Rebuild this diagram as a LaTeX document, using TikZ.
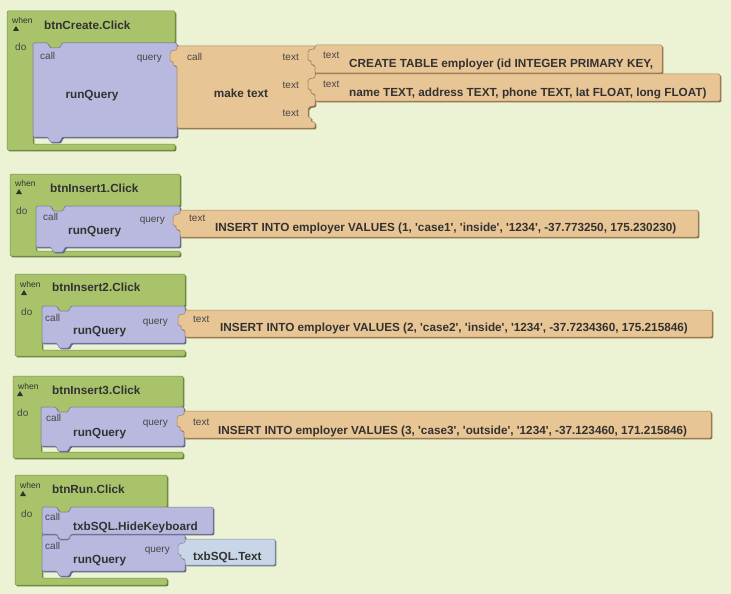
\documentclass[tikz,border=0pt]{standalone}
\usepackage{fontspec}
\setmainfont{Liberation Sans}[Ligatures=TeXOff]
\definecolor{bgc}{RGB}{236,243,213}
\definecolor{evfill}{RGB}{169,195,106}
\definecolor{evline}{RGB}{98,124,52}
\definecolor{stfill}{RGB}{185,185,223}
\definecolor{stline}{RGB}{98,98,138}
\definecolor{orfill}{RGB}{232,197,149}
\definecolor{orline}{RGB}{142,108,66}
\definecolor{blfill}{RGB}{200,214,231}
\definecolor{blline}{RGB}{108,122,140}
\definecolor{txtc}{RGB}{50,50,50}
\definecolor{lblc}{RGB}{70,70,70}

\newcommand\evshape[7]{(#1,#2) -- (#3,#2) -- (#3,#4) -- (#5+29,#4) -- (#5+27,#4+5) -- (#5+17,#4+5) -- (#5+15,#4) -- (#5,#4) -- (#5,#6) -- (#3,#6) -- (#3,#7) -- (#1,#7) -- cycle}
\newcommand\stshape[4]{(#1,#2) -- (#1+15,#2) -- (#1+17,#2+5) -- (#1+27,#2+5) -- (#1+29,#2) -- (#3,#2) -- (#3,#4) -- (#1+29,#4) -- (#1+27,#4+5) -- (#1+17,#4+5) -- (#1+15,#4) -- (#1,#4) -- cycle}
\newcommand\plugup[2]{-- (#1,#2+20) .. controls (#1-3,#2+20) and (#1-4,#2+19) .. (#1-4,#2+17) .. controls (#1-4,#2+16) and (#1-7,#2+16) .. (#1-7,#2+13) -- (#1-7,#2+8) .. controls (#1-7,#2+5) and (#1-4,#2+4) .. (#1,#2+4)}
\newcommand\sockdown[2]{-- (#1,#2+4) .. controls (#1-4,#2+4) and (#1-7,#2+5) .. (#1-7,#2+8) -- (#1-7,#2+13) .. controls (#1-7,#2+16) and (#1-4,#2+16) .. (#1-4,#2+17) .. controls (#1-4,#2+19) and (#1-3,#2+20) .. (#1,#2+20)}
\newcommand\valshape[4]{(#1,#2) -- (#3,#2) -- (#3,#4) -- (#1,#4) \plugup{#1}{#2} -- cycle}
\newcommand\mkshape{(177,46) -- (315,46) \sockdown{315}{45} \sockdown{315}{74} \sockdown{315}{102} -- (315,128) -- (177,128) \plugup{177}{46} -- cycle}
\newcommand\blk[3]{%
  \fill[#2, rounded corners=1.2, shift={(1.3,1.3)}] #3;
  \filldraw[fill=#1, draw=#2!85, line width=0.5, rounded corners=1.2] #3;
}
\newcommand\whenmark[2]{\fill[txtc] (#1-3,#2+2) -- (#1+3,#2+2) -- (#1,#2-3) -- cycle;}

\tikzset{
  big/.style={font=\fontsize{11.75}{14}\selectfont\bfseries, text=txtc, inner sep=0pt, text height=8.4pt, text depth=0pt},
  lbl/.style={font=\fontsize{10}{12}\selectfont, text=lblc, inner sep=0pt, text height=5.5pt, text depth=0pt},
  tiny/.style={font=\fontsize{8.5}{10}\selectfont, text=txtc, inner sep=0pt, text height=5pt, text depth=0pt},
}

\begin{document}
\begin{tikzpicture}[x=1pt,y=-1pt]
\useasboundingbox (0,0) rectangle (731,594);
\fill[bgc] (0,0) rectangle (731,594);

% ---------- block 1: btnCreate.Click
\blk{evfill}{evline}{\evshape{7}{11}{175}{43}{33}{144}{150}}
\blk{stfill}{stline}{\stshape{33}{43}{177}{137}}
\blk{orfill}{orline}{\mkshape}
\blk{orfill}{orline}{\valshape{315}{45}{662}{73}}
\blk{orfill}{orline}{\valshape{315}{74}{720}{101}}
\whenmark{16}{29}
\node[tiny, anchor=west] (w1) at (12,21) {when};
\node[lbl, anchor=west] (d1) at (15,48) {do};
\node[big, anchor=west] (t1) at (44,25) {btnCreate.Click};
\node[lbl, anchor=west] (c1) at (40,57) {call};
\node[big] (r1) at (92,94) {runQuery};
\node[lbl, anchor=east] (q1) at (162,58) {query};
\node[lbl, anchor=west] (c1b) at (187,58) {call};
\node[big] (m1) at (241,93) {make text};
\node[lbl, anchor=east] (s1a) at (299,58) {text};
\node[lbl, anchor=east] (s1b) at (299,86) {text};
\node[lbl, anchor=east] (s1c) at (299,114) {text};
\node[lbl, anchor=west] (x1a) at (323,56) {text};
\node[big, anchor=west] (v1a) at (349,63) {CREATE TABLE employer (id INTEGER PRIMARY KEY,};
\node[lbl, anchor=west] (x1b) at (323,85) {text};
\node[big, anchor=west] (v1b) at (349,92) {name TEXT, address TEXT, phone TEXT, lat FLOAT, long FLOAT)};

% ---------- block 2: btnInsert1.Click
\blk{evfill}{evline}{\evshape{10}{174}{180}{206}{36}{251}{256}}
\blk{stfill}{stline}{\stshape{36}{206}{180}{247}}
\blk{orfill}{orline}{\valshape{180}{210}{698}{237}}
\whenmark{19}{192}
\node[tiny, anchor=west] (w2) at (15,184) {when};
\node[lbl, anchor=west] (d2) at (16,212) {do};
\node[big, anchor=west] (t2) at (50,188) {btnInsert1.Click};
\node[lbl, anchor=west] (c2) at (43,218) {call};
\node[big, anchor=west] (r2) at (68,230) {runQuery};
\node[lbl, anchor=east] (q2) at (165,220) {query};
\node[lbl, anchor=west] (x2) at (189,219) {text};
\node[big, anchor=west] (v2) at (215,227) {INSERT INTO employer VALUES (1, 'case1', 'inside', '1234', -37.773250, 175.230230)};

% ---------- block 3: btnInsert2.Click
\blk{evfill}{evline}{\evshape{15}{274}{185}{306}{42}{350}{356}}
\blk{stfill}{stline}{\stshape{42}{306}{185}{343}}
\blk{orfill}{orline}{\valshape{185}{310}{712}{337}}
\whenmark{24}{293}
\node[tiny, anchor=west] (w3) at (20,285) {when};
\node[lbl, anchor=west] (d3) at (21,313) {do};
\node[big, anchor=west] (t3) at (52,287) {btnInsert2.Click};
\node[lbl, anchor=west] (c3) at (45,319) {call};
\node[big, anchor=west] (r3) at (73,330) {runQuery};
\node[lbl, anchor=east] (q3) at (168,322) {query};
\node[lbl, anchor=west] (x3) at (193,320) {text};
\node[big, anchor=west] (v3) at (220,327) {INSERT INTO employer VALUES (2, 'case2', 'inside', '1234', -37.7234360, 175.215846)};

% ---------- block 4: btnInsert3.Click
\blk{evfill}{evline}{\evshape{13}{376}{183}{407}{41}{452}{458}}
\blk{stfill}{stline}{\stshape{41}{407}{184}{446}}
\blk{orfill}{orline}{\valshape{184}{411}{711}{438}}
\whenmark{20}{394}
\node[tiny, anchor=west] (w4) at (18,387) {when};
\node[lbl, anchor=west] (d4) at (17,414) {do};
\node[big, anchor=west] (t4) at (52,390) {btnInsert3.Click};
\node[lbl, anchor=west] (c4) at (46,419) {call};
\node[big, anchor=west] (r4) at (73,432) {runQuery};
\node[lbl, anchor=east] (q4) at (168,423) {query};
\node[lbl, anchor=west] (x4) at (193,423) {text};
\node[big, anchor=west] (v4) at (218,430) {INSERT INTO employer VALUES (3, 'case3', 'outside', '1234', -37.123460, 171.215846)};

% ---------- block 5: btnRun.Click
\blk{evfill}{evline}{\evshape{15}{475}{167}{507}{42}{578}{585}}
\blk{stfill}{stline}{\stshape{42}{507}{213}{534}}
\blk{stfill}{stline}{\stshape{42}{535}{185}{571}}
\blk{blfill}{blline}{\valshape{185}{539}{275}{565}}
\whenmark{23}{494}
\node[tiny, anchor=west] (w5) at (20,486) {when};
\node[lbl, anchor=west] (d5) at (21,515) {do};
\node[big, anchor=west] (t5) at (52,489) {btnRun.Click};
\node[lbl, anchor=west] (c5a) at (45,518) {call};
\node[big, anchor=west] (h5) at (73,526) {txbSQL.HideKeyboard};
\node[lbl, anchor=west] (c5b) at (45,547) {call};
\node[big, anchor=west] (r5) at (73,559) {runQuery};
\node[lbl, anchor=east] (q5) at (170,550) {query};
\node[big, anchor=west] (v5) at (193,556) {txbSQL.Text};
\end{tikzpicture}
\end{document}
